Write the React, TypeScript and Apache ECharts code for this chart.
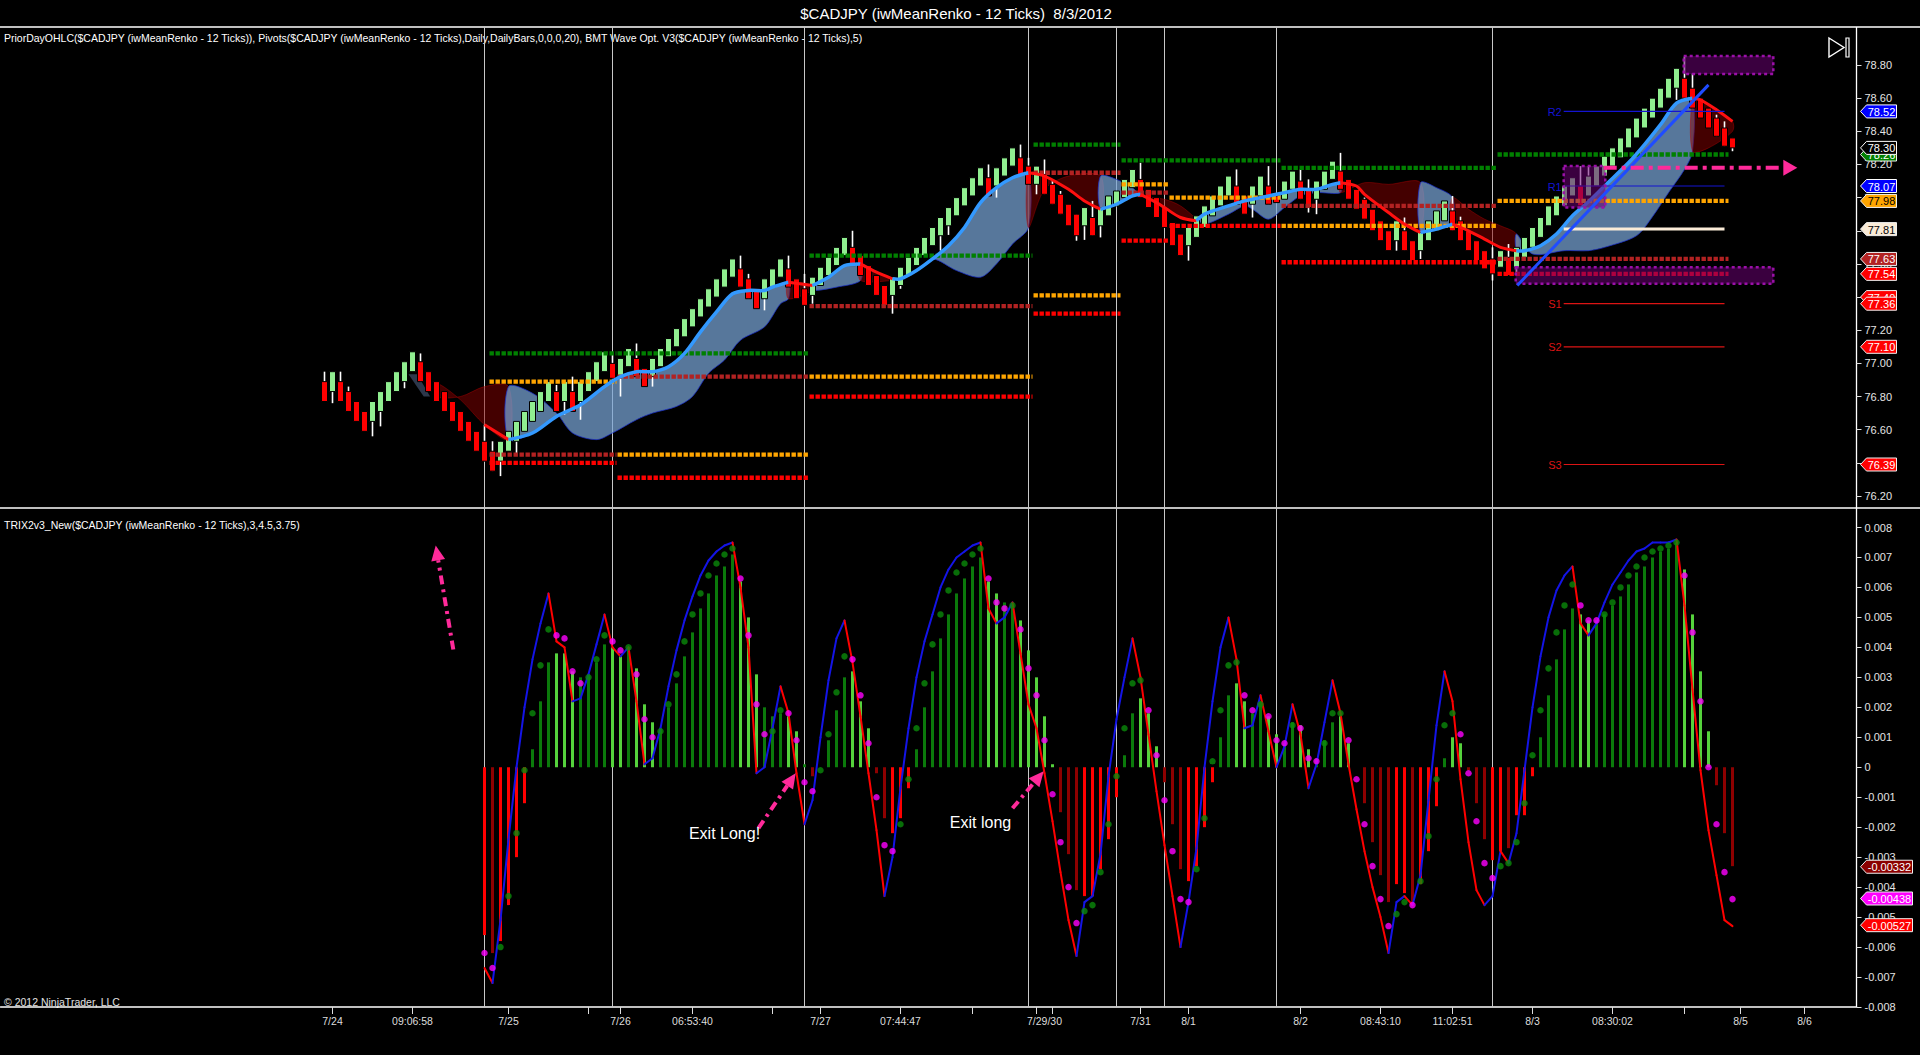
import React, { useEffect, useRef } from "react";
import * as echarts from "echarts";

const FONT = '"Liberation Sans", Arial, Helvetica, sans-serif';
const OFFSET = 40; // empty slots left of the first brick
const N_SLOTS = 232;

const TITLE = "$CADJPY (iwMeanRenko - 12 Ticks)  8/3/2012";
const UPPER_LABEL =
  "PriorDayOHLC($CADJPY (iwMeanRenko - 12 Ticks)), Pivots($CADJPY (iwMeanRenko - 12 Ticks),Daily,DailyBars,0,0,0,20), BMT Wave Opt. V3($CADJPY (iwMeanRenko - 12 Ticks),5)";
const LOWER_LABEL = "TRIX2v3_New($CADJPY (iwMeanRenko - 12 Ticks),3,4.5,3.75)";
const COPYRIGHT = "\u00a9 2012 NinjaTrader, LLC";

// ---- Renko bricks ----
const OPEN = [
  76.89, 76.83, 76.89, 76.83, 76.77, 76.71, 76.65, 76.71, 76.77, 76.83,
  76.89, 76.95, 77.01, 76.95, 76.89, 76.83, 76.77, 76.71, 76.65, 76.59,
  76.53, 76.47, 76.41, 76.47, 76.53, 76.59, 76.65, 76.71, 76.77, 76.83,
  76.77, 76.83, 76.77, 76.83, 76.89, 76.95, 77.0, 76.92, 76.98, 77.03,
  76.97, 76.92, 76.98, 77.04, 77.1, 77.16, 77.22, 77.28, 77.34, 77.4,
  77.46, 77.52, 77.57, 77.51, 77.45, 77.39, 77.46, 77.52, 77.57, 77.51,
  77.45, 77.41, 77.47, 77.53, 77.59, 77.65, 77.7, 77.65, 77.59, 77.53,
  77.47, 77.41, 77.47, 77.53, 77.59, 77.65, 77.71, 77.77, 77.83, 77.89,
  77.95, 78.01, 78.07, 78.12, 78.07, 78.13, 78.19, 78.24, 78.19, 78.08,
  78.14, 78.08, 78.02, 77.96, 77.9, 77.83, 77.88, 77.83, 77.89, 77.95,
  78.0, 78.06, 78.11, 78.05, 78.0, 77.94, 77.85, 77.78, 77.71, 77.76,
  77.82, 77.89, 77.95, 78.01, 78.07, 78.01, 77.96, 78.01, 78.07, 78.01,
  77.99, 78.05, 78.1, 78.05, 77.99, 78.05, 78.11, 78.16, 78.11, 78.05,
  77.99, 77.93, 77.86, 77.8, 77.74, 77.8, 77.74, 77.68, 77.74, 77.8,
  77.86, 77.92, 77.86, 77.8, 77.74, 77.68, 77.63, 77.58, 77.64, 77.58,
  77.64, 77.7, 77.76, 77.83, 77.89, 77.95, 78.01, 78.07, 78.01, 78.07,
  78.13, 78.19, 78.24, 78.3, 78.36, 78.42, 78.48, 78.54, 78.6, 78.66,
  78.72, 78.66, 78.6, 78.54, 78.48, 78.42, 78.36,
];
const CLOSE = [
  76.77, 76.95, 76.77, 76.71, 76.65, 76.59, 76.77, 76.83, 76.89, 76.95,
  77.01, 77.07, 76.89, 76.83, 76.77, 76.71, 76.65, 76.59, 76.53, 76.47,
  76.41, 76.35, 76.53, 76.59, 76.65, 76.71, 76.77, 76.83, 76.89, 76.71,
  76.89, 76.71, 76.89, 76.95, 77.01, 77.07, 76.91, 77.03, 77.09, 76.92,
  76.86, 77.03, 77.09, 77.15, 77.21, 77.27, 77.33, 77.39, 77.45, 77.51,
  77.57, 77.63, 77.46, 77.39, 77.33, 77.51, 77.57, 77.63, 77.46, 77.39,
  77.35, 77.52, 77.58, 77.64, 77.7, 77.76, 77.59, 77.53, 77.47, 77.41,
  77.35, 77.52, 77.58, 77.64, 77.7, 77.76, 77.82, 77.88, 77.94, 78.0,
  78.06, 78.12, 78.18, 78.01, 78.18, 78.24, 78.3, 78.14, 78.08, 78.19,
  78.02, 77.96, 77.9, 77.83, 77.77, 77.94, 77.77, 77.94, 78.01, 78.04,
  78.11, 78.17, 78.0, 77.94, 77.88, 77.82, 77.71, 77.65, 77.82, 77.89,
  77.95, 78.01, 78.07, 78.13, 77.96, 77.9, 78.07, 78.13, 77.96, 77.97,
  78.1, 78.16, 77.99, 77.94, 78.1, 78.16, 78.22, 78.05, 77.99, 77.93,
  77.87, 77.8, 77.74, 77.68, 77.86, 77.68, 77.62, 77.79, 77.86, 77.92,
  77.98, 77.8, 77.74, 77.68, 77.62, 77.57, 77.54, 77.68, 77.53, 77.7,
  77.76, 77.82, 77.88, 77.95, 78.01, 78.07, 78.12, 77.95, 78.13, 78.19,
  78.25, 78.3, 78.36, 78.42, 78.48, 78.54, 78.6, 78.66, 78.72, 78.78,
  78.6, 78.54, 78.48, 78.42, 78.37, 78.31, 78.3,
];
// [brick, high, low] for bricks that show a wick
const WICKS = [
  [0, 76.95, 76.77], [1, 76.95, 76.76], [2, 76.95, 76.77], [3, 76.86, 76.71],
  [6, 76.77, 76.56], [7, 76.83, 76.62], [10, 77.01, 76.85], [12, 77.06, 76.89],
  [20, 76.63, 76.41], [21, 76.53, 76.35], [22, 76.53, 76.32], [24, 76.65, 76.46],
  [29, 76.87, 76.71], [30, 76.89, 76.69], [31, 76.92, 76.71], [32, 76.89, 76.66],
  [36, 77.05, 76.91], [37, 77.03, 76.8], [39, 77.12, 76.92], [41, 77.03, 76.86],
  [52, 77.65, 77.46], [53, 77.54, 77.39], [55, 77.51, 77.32], [58, 77.65, 77.46],
  [60, 77.54, 77.35], [61, 77.52, 77.36], [66, 77.8, 77.59], [71, 77.52, 77.3],
  [72, 77.58, 77.45], [77, 77.88, 77.68], [78, 77.94, 77.775], [83, 78.2, 78.01],
  [84, 78.18, 78.0], [87, 78.32, 78.14], [88, 78.24, 78.08], [89, 78.19, 78.02],
  [90, 78.23, 78.02], [91, 78.11, 77.96], [92, 78.04, 77.9], [94, 77.9, 77.74],
  [95, 77.94, 77.745], [96, 77.98, 77.77], [97, 77.94, 77.76], [102, 78.21, 78.0],
  [108, 77.82, 77.62], [114, 78.17, 77.96], [116, 78.07, 77.88], [118, 78.19, 77.96],
  [122, 78.17, 77.99], [123, 78.11, 77.91], [124, 78.1, 77.9], [127, 78.27, 78.05],
  [130, 78.0, 77.87], [134, 77.86, 77.68], [135, 77.88, 77.68], [137, 77.79, 77.63],
  [141, 78.01, 77.8], [142, 77.885, 77.74], [146, 77.7, 77.5], [148, 77.72, 77.53],
  [149, 77.7, 77.54], [157, 78.19, 77.95], [158, 78.19, 78.01], [169, 78.78, 78.59],
  [170, 78.85, 78.6], [171, 78.75, 78.54], [174, 78.5, 78.37], [175, 78.46, 78.31],
  [176, 78.36, 78.28],
];

// ---- BMT wave (key points, brick index / price) ----
const WAVE_KEYS = [
  [14, 76.88], [17, 76.78], [20, 76.63], [23, 76.54], [26, 76.58], [29, 76.68], [32, 76.75],
  [35, 76.86], [37, 76.92], [39, 76.95], [41, 76.95], [43, 76.98], [45, 77.06], [47, 77.19],
  [49, 77.31], [51, 77.42], [53, 77.44], [55, 77.44], [56, 77.46], [58, 77.49], [61, 77.47],
  [63, 77.52], [65, 77.59], [67, 77.6], [69, 77.55], [71, 77.51], [72, 77.51], [74, 77.56],
  [76, 77.63], [78, 77.71], [80, 77.82], [82, 77.97], [84, 78.06], [86, 78.12], [88, 78.15],
  [90, 78.13], [93, 78.05], [95, 77.98], [97, 77.93], [99, 77.96], [101, 78.01], [102, 78.02],
  [104, 77.97], [105, 77.94], [107, 77.88], [109, 77.86], [110, 77.9], [113, 77.95],
  [115, 77.98], [116, 77.99], [118, 78.01], [120, 78.03], [122, 78.05], [124, 78.05],
  [126, 78.08], [127, 78.09], [129, 78.07], [130, 78.02], [133, 77.91], [135, 77.84],
  [137, 77.79], [139, 77.81], [141, 77.84], [143, 77.8], [145, 77.75], [147, 77.7],
  [149, 77.68], [150, 77.68], [152, 77.71], [154, 77.78], [156, 77.89], [158, 77.975],
  [160, 78.07], [163, 78.21], [165, 78.32], [167, 78.44], [169, 78.57], [171, 78.6],
  [172, 78.59], [174, 78.53], [176, 78.46],
];
const BAND_KEYS = [
  [14, 76.8], [17, 76.8], [20, 76.86], [23, 76.86], [26, 76.82], [29, 76.7], [31, 76.58],
  [34, 76.54], [36, 76.58], [39, 76.66], [41, 76.7], [44, 76.74], [46, 76.8], [48, 76.94],
  [50, 77.02], [52, 77.14], [55, 77.22], [57, 77.36], [58, 77.39], [61, 77.44], [64, 77.46],
  [67, 77.5], [71, 77.5], [74, 77.56], [76, 77.63], [79, 77.56], [82, 77.52], [84, 77.6],
  [86, 77.72], [88, 77.82], [90, 78.05], [93, 78.13], [97, 78.13], [99, 78.11], [101, 78.06],
  [102, 78.01], [105, 77.99], [107, 77.95], [109, 77.87], [110, 77.84], [113, 77.9],
  [115, 77.95], [116, 77.93], [118, 77.87], [120, 77.94], [122, 78.01], [124, 78.03],
  [127, 78.03], [130, 78.09], [133, 78.08], [137, 78.09], [139, 78.06], [141, 78.0],
  [143, 77.93], [145, 77.87], [147, 77.83], [149, 77.78], [151, 77.66], [155, 77.68],
  [158, 77.68], [160, 77.7], [164, 77.77], [166, 77.885], [168, 78.03], [170, 78.17],
  [171, 78.28], [173, 78.3], [176, 78.4],
];
// section boundaries; first section is falling, then alternating
const WAVE_BOUNDS = [14, 23, 58, 61, 67, 71, 88, 97, 102, 109, 127, 137, 141, 149, 171, 176];
const WAVE_LINE_FROM = 19; // the wave line itself becomes visible here
// small dark patch where the wave starts
const PATCH_X = [10.5, 11.6, 13.2, 12.4];
const PATCH_Y = [76.935, 76.935, 76.8, 76.8];

// ---- Prior day OHLC, per session ----
const SESSION_BREAKS = [20, 36, 60, 88, 99, 105, 119, 146];
const SESSION_FROM = [20.5, 36.5, 60.5, 88.5, 99.5, 105.5, 119.5, 146.5];
const SESSION_TO = [36.5, 60.5, 88.5, 99.5, 105.5, 119.5, 146.5, 175.5];
const PRIOR_HIGH = [77.06, 77.06, 77.65, 78.32, 78.225, 78.225, 78.18, 78.26];
const PRIOR_OPEN = [76.89, 76.45, 76.92, 77.41, 78.08, 78.0, 77.83, 77.98];
const PRIOR_CLOSE = [76.45, 76.92, 77.345, 78.15, 78.03, null, 77.95, 77.63];
const PRIOR_LOW = [76.4, 76.31, 76.8, 77.3, 77.74, 77.83, 77.61, 77.54];

// ---- Pivots ----
const PIVOT_NAMES = ["R2", "R1", "PP", "S1", "S2", "S3"];
const PIVOT_VALUES = [78.52, 78.07, 77.81, 77.36, 77.1, 76.39];
const PIVOT_FROM = 154.9;
const PIVOT_TO = 175;

// ---- Drawings ----
const BOX_X0 = [169.9, 154.9, 148.9];
const BOX_X1 = [181.1, 160.1, 181.1];
const BOX_Y0 = [78.745, 77.94, 77.48];
const BOX_Y1 = [78.855, 78.19, 77.58];
const TREND_LINE = [149.1, 77.47, 173, 78.68];
const PRICE_ARROW = [159.9, 78.18, 184.1, 78.18];
const LOW_ARROWS = [
  [54.25, -0.00203, 58.9, -0.0002],
  [86, -0.00137, 89.9, -0.00013],
  [16.1, 0.00393, 13.9, 0.0074],
];
const NOTE_TEXT = ["Exit Long!", "Exit long"];
const NOTE_X = [50.0, 82.0];
const NOTE_Y = [-0.0022, -0.00183];

// ---- Right axis tags ----
const TAG_UP_VALUES = [78.52, 78.26, 78.3, 78.07, 77.98, 77.81, 77.63, 77.54, 77.4, 77.36, 77.1, 76.39];
const TAG_UP_BG = ["#0000ff", "#008000", "#000000", "#0000ff", "#ffa500", "#faebd7", "#b22222", "#ff0000", "#ff0000", "#ff0000", "#ff0000", "#ff0000"];
const TAG_UP_FG = ["#fff", "#fff", "#fff", "#fff", "#000", "#000", "#fff", "#fff", "#fff", "#fff", "#fff", "#fff"];
const TAG_LOW_VALUES = [-0.00332, -0.00438, -0.00527];
const TAG_LOW_BG = ["#8b0000", "#ff00ff", "#ff0000"];

// ---- TRIX panel (starts at brick 20) ----
const TRIX_START = 20;
const HIST = [
  -0.0056, -0.0062, -0.0058, -0.0046, -0.003, -0.0012, 0.0006, 0.0022, 0.0035, 0.0038,
  0.0038, 0.0032, 0.003, 0.0031, 0.0035, 0.0041, 0.004, 0.0037, 0.004, 0.0033,
  0.0021, 0.0015, 0.0013, 0.002, 0.0028, 0.0037, 0.0045, 0.0053, 0.0058, 0.0064,
  0.0067, 0.0071, 0.0062, 0.005, 0.0031, 0.002, 0.0017, 0.0018, 0.0017, 0.0012,
  0.0001, -0.0003, 0.0, 0.0009, 0.0019, 0.003, 0.0032, 0.0022, 0.0013, -0.0002,
  -0.0017, -0.0022, -0.0017, -0.0007, 0.0006, 0.002, 0.0032, 0.0043, 0.0051, 0.0058,
  0.0063, 0.0067, 0.007, 0.0062, 0.0058, 0.0055, 0.0054, 0.0049, 0.0039, 0.003,
  0.0017, 0.0001, -0.0015, -0.0029, -0.0041, -0.0043, -0.0043, -0.0034, -0.0024, -0.001,
  0.0004, 0.0018, 0.0023, 0.0018, 0.0007, -0.0005, -0.0019, -0.0034, -0.0038, -0.0033,
  -0.002, -0.0005, 0.001, 0.0024, 0.0028, 0.0022, 0.0018, 0.0022, 0.0017, 0.0011,
  0.0008, 0.0015, 0.0014, 0.0006, 0.0003, 0.0009, 0.0015, 0.0017, 0.0008, 0.0,
  -0.0012, -0.0025, -0.0036, -0.0045, -0.0039, -0.0042, -0.0046, -0.0039, -0.0028, -0.0013,
  0.0003, 0.001, 0.0008, -0.0001, -0.0012, -0.0024, -0.0031, -0.0028, -0.0027, -0.0016,
  -0.0016, -0.0003, 0.001, 0.0024, 0.0036, 0.0046, 0.0053, 0.0051, 0.0049, 0.0049,
  0.0051, 0.0054, 0.0057, 0.0061, 0.0065, 0.0067, 0.007, 0.0072, 0.0073, 0.0075,
  0.0066, 0.0051, 0.0032, 0.0012, -0.0006, -0.0022, -0.0033,
];
const HIST_COLORS =
  "RrRRRRgggG" + "GGggggGGgG" + "GGgggggggg" + "ggGGGgggGG" + "grggggGGGr" +
  "rRRRgggggg" + "gggGGggGGG" + "GGrrrRRRRR" + "ggGGGrrrRR" + "RRggGGggGG" +
  "ggGGgggGGr" + "rrrrRRrRRR" + "gGGrrrRRrR" + "RRgggggGGg" + "gggggggggg" + "GGGGrrr";
const SIGNAL = [
  -0.0062, -0.0067, -0.006, -0.0043, -0.0022, -0.0001, 0.0018, 0.0034, 0.0046, 0.0044,
  0.0043, 0.0032, 0.0028, 0.003, 0.0036, 0.0044, 0.0042, 0.0039, 0.004, 0.0031,
  0.0016, 0.001, 0.0012, 0.0021, 0.0031, 0.0042, 0.0051, 0.0058, 0.0064, 0.0068,
  0.0071, 0.0073, 0.0063, 0.0044, 0.0021, 0.0011, 0.0012, 0.0019, 0.0018, 0.0009,
  -0.0005, -0.0008, -0.0001, 0.0011, 0.0025, 0.0037, 0.0036, 0.0024, 0.0008, -0.001,
  -0.0026, -0.0028, -0.0019, -0.0004, 0.0013, 0.0028, 0.0041, 0.0051, 0.0059, 0.0065,
  0.0068, 0.0071, 0.0073, 0.0063, 0.0055, 0.0053, 0.0054, 0.0046, 0.0033, 0.0024,
  0.0009, -0.0009, -0.0025, -0.004, -0.0052, -0.0048, -0.0046, -0.0035, -0.0019, -0.0003,
  0.0013, 0.0028, 0.0029, 0.0019, 0.0004, -0.0011, -0.0028, -0.0044, -0.0045, -0.0034,
  -0.0017, 0.0002, 0.0019, 0.0034, 0.0035, 0.0024, 0.0019, 0.0021, 0.0017, 0.0009,
  0.0008, 0.0014, 0.0013, 0.0003, 0.0002, 0.0008, 0.0018, 0.0018, 0.0009, -0.0004,
  -0.0019, -0.0033, -0.0044, -0.0053, -0.0049, -0.0045, -0.0046, -0.0038, -0.0023, -0.0004,
  0.0014, 0.0018, 0.0011, -0.0002, -0.0018, -0.0032, -0.0037, -0.0033, -0.0032, -0.0025,
  -0.0012, 0.0004, 0.0019, 0.0033, 0.0045, 0.0054, 0.0061, 0.0054, 0.0049, 0.0049,
  0.0051, 0.0055, 0.006, 0.0064, 0.0067, 0.007, 0.0072, 0.0073, 0.0074, 0.0075,
  0.0064, 0.0045, 0.0022, 0.0, -0.0019, -0.0035, -0.0044,
];
const SIGNAL_COLORS =
  "mmgggggggm" + "mmmgggmmgm" + "mmgggggggg" + "ggmmmmggmm" + "mmggggmmmm" +
  "mmgggggggg" + "gggmmmgmmm" + "mmmmmggggg" + "gggmmmmmmg" + "gggggmmgmm" +
  "mgmmmgggmm" + "mmmmggmggg" + "ggmmmmmggg" + "gggggggmmm" + "gggggggggg" + "mmmmmmm";
const TRIX = [
  -0.0067, -0.0072, -0.0051, -0.0024, 0.0, 0.002, 0.0036, 0.0048, 0.0058, 0.0042,
  0.004, 0.0022, 0.0023, 0.0031, 0.0041, 0.0051, 0.004, 0.0037, 0.004, 0.0022,
  0.0001, 0.0003, 0.0013, 0.0027, 0.0039, 0.0049, 0.0057, 0.0064, 0.0069, 0.0072,
  0.0074, 0.0075, 0.006, 0.004, -0.0002, 0.0, 0.0013, 0.0027, 0.0018, -0.0002,
  -0.0019, -0.0011, 0.001, 0.0029, 0.0043, 0.0049, 0.0035, 0.0017, -0.0002, -0.0021,
  -0.0043, -0.003, -0.0007, 0.0013, 0.003, 0.0042, 0.0051, 0.006, 0.0066, 0.007,
  0.0072, 0.0074, 0.0075, 0.0053, 0.0048, 0.005, 0.0055, 0.0038, 0.0021, 0.0013,
  -0.0002, -0.0018, -0.0035, -0.0051, -0.0063, -0.0045, -0.0043, -0.0029, -0.0003, 0.0016,
  0.003, 0.0043, 0.003, 0.0011, -0.0008, -0.0026, -0.0043, -0.006, -0.0045, -0.0027,
  0.0, 0.0022, 0.004, 0.005, 0.0036, 0.0013, 0.0014, 0.0024, 0.0012, 0.0,
  0.0007, 0.0021, 0.0011, -0.0007, 0.0001, 0.0015, 0.0029, 0.0018, 0.0001, -0.0014,
  -0.0028, -0.004, -0.005, -0.0062, -0.0045, -0.0043, -0.0046, -0.0036, -0.0011, 0.0014,
  0.0032, 0.0022, -0.0004, -0.0025, -0.0041, -0.0046, -0.0043, -0.0028, -0.0032, -0.0022,
  -0.0001, 0.002, 0.0037, 0.005, 0.0059, 0.0064, 0.0067, 0.0048, 0.0044, 0.0048,
  0.0055, 0.0061, 0.0065, 0.0069, 0.0072, 0.0073, 0.0075, 0.0075, 0.0075, 0.0076,
  0.0054, 0.0026, -0.0001, -0.0021, -0.0036, -0.0051, -0.0053,
];

// ---- Time axis ----
const X_LABEL_SLOTS = [41, 51, 63, 77, 86, 102, 112, 130, 142, 148, 162, 172, 181, 191, 201, 217, 225];
const X_LABELS = ["7/24", "09:06:58", "7/25", "7/26", "06:53:40", "7/27", "07:44:47", "7/29/30", "7/31", "8/1", "8/2", "08:43:10", "11:02:51", "8/3", "08:30:02", "8/5", "8/6"];
const X_TICK_SLOTS = [41, 51, 63, 73, 77, 86, 96, 102, 112, 121, 129, 131, 142, 148, 162, 172, 181, 191, 201, 210, 217, 225];

// layout constants (pixels)
const PANEL_TOP = 27;
const PANEL_MID = 508;
const PANEL_BOTTOM = 1007;

const HIST_COLOR_MAP: any = { G: "#55d23c", g: "#0b7a0b", R: "#ff0000", r: "#8e0000" };
const DOT_COLOR_MAP: any = { g: "#0a8a0a", m: "#ff00ff" };

function pt(api: any, idx: number, val: number) {
  const base = Math.floor(idx);
  const a = api.coord([base + OFFSET, val]);
  const b = api.coord([base + 1 + OFFSET, val]);
  return [a[0] + (idx - base) * (b[0] - a[0]), a[1]];
}

function arrow(p0: number[], p1: number[], color: string, width: number, head: number, half: number, dash: number[]) {
  const dx = p1[0] - p0[0];
  const dy = p1[1] - p0[1];
  const len = Math.hypot(dx, dy) || 1;
  const ux = dx / len;
  const uy = dy / len;
  const bx = p1[0] - ux * head;
  const by = p1[1] - uy * head;
  const px = -uy;
  const py = ux;
  return [
    { type: "line", shape: { x1: p0[0], y1: p0[1], x2: bx, y2: by }, style: { stroke: color, lineWidth: width, lineDash: dash } },
    {
      type: "polygon",
      shape: { points: [[p1[0], p1[1]], [bx + px * half, by + py * half], [bx - px * half, by - py * half]] },
      style: { fill: color },
    },
  ];
}

function tag(ax: number, y: number, w: number, bg: string, fg: string, text: string, border: string) {
  const h = 6.5;
  return {
    type: "group",
    children: [
      {
        type: "polygon",
        shape: { points: [[ax + 4, y], [ax + 10, y - h], [ax + 10 + w, y - h], [ax + 10 + w, y + h], [ax + 10, y + h]] },
        style: { fill: bg, stroke: border, lineWidth: 1 },
      },
      {
        type: "text",
        style: {
          text,
          x: ax + 10 + w / 2,
          y: y + 0.5,
          fill: fg,
          font: `11px ${FONT}`,
          align: "center",
          verticalAlign: "middle",
        },
      },
    ],
  };
}

function sectionKeys(keys: number[][], s: number, e: number) {
  return keys.filter((k) => k[0] >= s && k[0] <= e);
}

function buildOption() {
  const cats = Array.from({ length: N_SLOTS }, (_, k) => {
    const j = X_LABEL_SLOTS.indexOf(k);
    return j >= 0 ? X_LABELS[j] : "";
  });
  const wickMap = new Map(WICKS.map((w) => [w[0], w]));

  const priorItems: any[] = [];
  const levels = [
    [PRIOR_HIGH, "#008000"],
    [PRIOR_CLOSE, "#b22222"],
    [PRIOR_OPEN, "#ffa500"],
    [PRIOR_LOW, "#ff0000"],
  ];
  SESSION_FROM.forEach((from, s) => {
    levels.forEach(([arr, color]: any) => {
      const v = arr[s];
      if (v != null) priorItems.push({ from, to: SESSION_TO[s], v, color });
    });
  });

  const histData = Array.from({ length: N_SLOTS }, (_, k) => {
    const i = k - OFFSET - TRIX_START;
    if (i < 0 || i >= HIST.length) return null;
    return { value: HIST[i], itemStyle: { color: HIST_COLOR_MAP[HIST_COLORS[i]] } };
  });
  const dotData = SIGNAL.map((v, i) => ({
    value: [TRIX_START + i + OFFSET, v],
    itemStyle: { color: DOT_COLOR_MAP[SIGNAL_COLORS[i]] },
  }));

  const sectionData = WAVE_BOUNDS.slice(0, -1).map((s) => [s + OFFSET, 77.5]);

  return {
    animation: false,
    backgroundColor: "#000",
    textStyle: { fontFamily: FONT },
    grid: [
      { left: 0.5, width: 1856, top: 31.85, height: 464.15, containLabel: false, outerBoundsMode: "none" },
      { left: 0.5, width: 1856, top: 527.5, height: 479.5, containLabel: false, outerBoundsMode: "none" },
    ],
    xAxis: [
      { type: "category", gridIndex: 0, data: cats, boundaryGap: true, show: false },
      {
        type: "category",
        gridIndex: 1,
        data: cats,
        boundaryGap: true,
        position: "bottom",
        axisLine: { show: true, onZero: false, lineStyle: { color: "#ffffff", width: 1.5 } },
        axisTick: {
          show: true,
          alignWithLabel: true,
          length: 7,
          interval: (i: number) => X_TICK_SLOTS.includes(i),
          lineStyle: { color: "#dddddd" },
        },
        axisLabel: {
          interval: (i: number, v: string) => v !== "",
          color: "#dddddd",
          fontSize: 10.5,
          fontFamily: FONT,
          margin: 8,
        },
        splitLine: { show: false },
      },
    ],
    yAxis: [
      {
        type: "value",
        gridIndex: 0,
        position: "right",
        min: 76.2,
        max: 79.0,
        interval: 0.2,
        axisLine: { show: false },
        axisTick: { show: true, length: 5, lineStyle: { color: "#dddddd" } },
        axisLabel: {
          color: "#e4e4e4",
          fontSize: 11,
          fontFamily: FONT,
          margin: 8,
          showMaxLabel: false,
          formatter: (v: number) => v.toFixed(2),
        },
        splitLine: { show: false },
      },
      {
        type: "value",
        gridIndex: 1,
        position: "right",
        min: -0.008,
        max: 0.008,
        interval: 0.001,
        axisLine: { show: false },
        axisTick: { show: true, length: 5, lineStyle: { color: "#dddddd" } },
        axisLabel: {
          color: "#e4e4e4",
          fontSize: 11,
          fontFamily: FONT,
          margin: 8,
          showMaxLabel: true,
          showMinLabel: true,
          formatter: (v: number) => {
            const r = Math.round(v * 1000) / 1000;
            return r === 0 ? "0" : String(r);
          },
        },
        splitLine: { show: false },
      },
    ],
    graphic: [
      { type: "line", shape: { x1: 0, y1: PANEL_TOP, x2: 1920, y2: PANEL_TOP }, style: { stroke: "#ffffff", lineWidth: 1.3 } },
      { type: "line", shape: { x1: 0, y1: PANEL_MID, x2: 1920, y2: PANEL_MID }, style: { stroke: "#ffffff", lineWidth: 1.3 } },
      { type: "line", shape: { x1: 1856.5, y1: PANEL_TOP, x2: 1856.5, y2: PANEL_BOTTOM }, style: { stroke: "#ffffff", lineWidth: 1.3 } },
      { type: "text", x: 956, y: 13, style: { text: TITLE, fill: "#ffffff", font: `15px ${FONT}`, align: "center", verticalAlign: "middle" } },
      { type: "text", x: 4, y: 38, style: { text: UPPER_LABEL, fill: "#ffffff", font: `10.5px ${FONT}`, verticalAlign: "middle" } },
      { type: "text", x: 4, y: 525, style: { text: LOWER_LABEL, fill: "#ffffff", font: `10.5px ${FONT}`, verticalAlign: "middle" } },
      { type: "text", x: 4, y: 1002, style: { text: COPYRIGHT, fill: "#e0e0e0", font: `10.5px ${FONT}`, verticalAlign: "middle" } },
      { type: "polygon", shape: { points: [[1829, 38], [1844, 47.5], [1829, 57]] }, style: { fill: "none", stroke: "#ffffff", lineWidth: 1.4 } },
      { type: "rect", shape: { x: 1846, y: 38, width: 3, height: 19 }, style: { fill: "none", stroke: "#ffffff", lineWidth: 1.2 } },
    ],
    series: [
      // session separators
      {
        type: "custom",
        xAxisIndex: 0,
        yAxisIndex: 0,
        z: 1,
        clip: false,
        data: SESSION_BREAKS.map((b) => [b + OFFSET, 77.5]),
        encode: { x: 0, y: 1 },
        renderItem: (params: any, api: any) => {
          const x = api.coord([api.value(0), 77.5])[0];
          return { type: "line", shape: { x1: x, y1: PANEL_TOP, x2: x, y2: PANEL_BOTTOM }, style: { stroke: "#c8c8c8", lineWidth: 1 } };
        },
      },
      // dark patch at the start of the wave
      {
        type: "custom",
        xAxisIndex: 0,
        yAxisIndex: 0,
        z: 2,
        data: [[Math.floor(PATCH_X[0]) + OFFSET, PATCH_Y[0]]],
        encode: { x: 0, y: 1 },
        renderItem: (params: any, api: any) => ({
          type: "polygon",
          shape: { points: PATCH_X.map((x, i) => pt(api, x, PATCH_Y[i])) },
          style: { fill: "rgba(60,75,100,0.75)" },
        }),
      },
      // wave band fill
      {
        type: "custom",
        xAxisIndex: 0,
        yAxisIndex: 0,
        z: 2,
        data: sectionData,
        encode: { x: 0, y: 1 },
        renderItem: (params: any, api: any) => {
          const k = params.dataIndex;
          const s = WAVE_BOUNDS[k];
          const e = WAVE_BOUNDS[k + 1];
          const down = k % 2 === 0;
          const w = sectionKeys(WAVE_KEYS, s, e).map((p) => api.coord([p[0] + OFFSET, p[1]]));
          const b = sectionKeys(BAND_KEYS, s, e).map((p) => api.coord([p[0] + OFFSET, p[1]])).reverse();
          return {
            type: "polygon",
            shape: { points: w.concat(b), smooth: 0.3 },
            style: {
              fill: down ? "rgba(135,0,0,0.5)" : "rgba(120,165,215,0.72)",
              stroke: down ? "rgba(190,0,0,0.4)" : "rgba(25,45,200,0.75)",
              lineWidth: 1,
            },
          };
        },
      },
      // renko candles
      {
        type: "custom",
        xAxisIndex: 0,
        yAxisIndex: 0,
        z: 3,
        data: OPEN.map((o, i) => [i + OFFSET, o, CLOSE[i]]),
        encode: { x: 0, y: [1, 2] },
        renderItem: (params: any, api: any) => {
          const i = params.dataIndex;
          const o = OPEN[i];
          const c = CLOSE[i];
          const po = api.coord([i + OFFSET, o]);
          const pc = api.coord([i + OFFSET, c]);
          const x = po[0];
          const children: any[] = [];
          const wk = wickMap.get(i);
          if (wk) {
            const yh = api.coord([i + OFFSET, wk[1]])[1];
            const yl = api.coord([i + OFFSET, wk[2]])[1];
            children.push({ type: "line", shape: { x1: x, y1: yh, x2: x, y2: yl }, style: { stroke: "#ffffff", lineWidth: 1.6 } });
          }
          children.push({
            type: "rect",
            shape: { x: x - 3, y: Math.min(po[1], pc[1]), width: 6, height: Math.abs(pc[1] - po[1]) },
            style: { fill: c >= o ? "#90ee90" : "#ff0000", stroke: "#000000", lineWidth: 1 },
          });
          return { type: "group", children };
        },
      },
      // prior day OHLC
      {
        type: "custom",
        xAxisIndex: 0,
        yAxisIndex: 0,
        z: 4,
        data: priorItems.map((p) => [Math.floor(p.from) + OFFSET, p.v]),
        encode: { x: 0, y: 1 },
        renderItem: (params: any, api: any) => {
          const p = priorItems[params.dataIndex];
          const a = pt(api, p.from, p.v);
          const b = pt(api, p.to, p.v);
          return {
            type: "line",
            shape: { x1: a[0] + 1, y1: a[1], x2: b[0], y2: b[1] },
            style: { stroke: p.color, lineWidth: 4.3, lineDash: [4.4, 1.6] },
          };
        },
      },
      // wave line
      {
        type: "custom",
        xAxisIndex: 0,
        yAxisIndex: 0,
        z: 5,
        data: sectionData,
        encode: { x: 0, y: 1 },
        renderItem: (params: any, api: any) => {
          const k = params.dataIndex;
          const s = Math.max(WAVE_BOUNDS[k], k === 0 ? WAVE_LINE_FROM : -1);
          const e = WAVE_BOUNDS[k + 1];
          const down = k % 2 === 0;
          const w = sectionKeys(WAVE_KEYS, s, e).map((p) => api.coord([p[0] + OFFSET, p[1]]));
          return {
            type: "polyline",
            shape: { points: w, smooth: 0.3 },
            style: { stroke: down ? "#ff1010" : "#3399ff", lineWidth: down ? 3 : 3.5, fill: "none" },
          };
        },
      },
      // pivots
      {
        type: "custom",
        xAxisIndex: 0,
        yAxisIndex: 0,
        z: 6,
        data: PIVOT_VALUES.map((v) => [Math.floor(PIVOT_FROM) + OFFSET, v]),
        encode: { x: 0, y: 1 },
        renderItem: (params: any, api: any) => {
          const i = params.dataIndex;
          const name = PIVOT_NAMES[i];
          const v = PIVOT_VALUES[i];
          const a = pt(api, PIVOT_FROM, v);
          const b = pt(api, PIVOT_TO, v);
          const isR = name[0] === "R";
          const isP = name === "PP";
          const color = isP ? "#faebd7" : isR ? "#1414d2" : "#dc1414";
          const children: any[] = [
            { type: "line", shape: { x1: a[0], y1: a[1], x2: b[0], y2: b[1] }, style: { stroke: color, lineWidth: isP ? 3 : 1.2 } },
          ];
          if (!isP) {
            children.push({
              type: "text",
              style: { text: name, x: a[0] - 2, y: a[1] + 0.5, fill: color, font: `11px ${FONT}`, align: "right", verticalAlign: "middle" },
            });
          }
          return { type: "group", children };
        },
      },
      // purple boxes
      {
        type: "custom",
        xAxisIndex: 0,
        yAxisIndex: 0,
        z: 7,
        data: BOX_X0.map((x0, i) => [Math.floor(x0) + OFFSET, BOX_Y0[i]]),
        encode: { x: 0, y: 1 },
        renderItem: (params: any, api: any) => {
          const i = params.dataIndex;
          const a = pt(api, BOX_X0[i], BOX_Y1[i]);
          const b = pt(api, BOX_X1[i], BOX_Y0[i]);
          return {
            type: "rect",
            shape: { x: a[0], y: a[1], width: b[0] - a[0], height: b[1] - a[1] },
            style: { fill: "rgba(105,0,115,0.55)", stroke: "#9a10a8", lineWidth: 2.5, lineDash: [3, 3] },
          };
        },
      },
      // trend line + price arrow
      {
        type: "custom",
        xAxisIndex: 0,
        yAxisIndex: 0,
        z: 8,
        clip: false,
        data: [[Math.floor(TREND_LINE[0]) + OFFSET, TREND_LINE[1]]],
        encode: { x: 0, y: 1 },
        renderItem: (params: any, api: any) => {
          const a = pt(api, TREND_LINE[0], TREND_LINE[1]);
          const b = pt(api, TREND_LINE[2], TREND_LINE[3]);
          const p0 = pt(api, PRICE_ARROW[0], PRICE_ARROW[1]);
          const p1 = pt(api, PRICE_ARROW[2], PRICE_ARROW[3]);
          return {
            type: "group",
            children: [
              { type: "line", shape: { x1: a[0], y1: a[1], x2: b[0], y2: b[1] }, style: { stroke: "#1f4cff", lineWidth: 3 } },
              ...arrow(p0, p1, "#ff2a9a", 4, 14, 8, [13, 5, 4, 5]),
            ],
          };
        },
      },
      // upper right-axis tags
      {
        type: "custom",
        xAxisIndex: 0,
        yAxisIndex: 0,
        z: 10,
        clip: false,
        data: TAG_UP_VALUES.map((v) => [OFFSET, v]),
        encode: { x: 0, y: 1 },
        renderItem: (params: any, api: any) => {
          const i = params.dataIndex;
          const v = TAG_UP_VALUES[i];
          const y = api.coord([OFFSET, v])[1];
          const ax = params.coordSys.x + params.coordSys.width;
          const bg = TAG_UP_BG[i];
          const border = bg === "#000000" || bg === "#0000ff" ? "#ffffff" : "#f0f0f0";
          return tag(ax, y, 30, bg, TAG_UP_FG[i], v.toFixed(2), border);
        },
      },
      // ---------- lower panel ----------
      {
        type: "bar",
        xAxisIndex: 1,
        yAxisIndex: 1,
        z: 2,
        barWidth: 3,
        data: histData,
      },
      {
        type: "custom",
        xAxisIndex: 1,
        yAxisIndex: 1,
        z: 3,
        data: TRIX.map((v, i) => [TRIX_START + i + OFFSET, v]),
        encode: { x: 0, y: 1 },
        renderItem: (params: any, api: any) => {
          const i = params.dataIndex;
          if (i === 0) return null;
          const a = api.coord([TRIX_START + i - 1 + OFFSET, TRIX[i - 1]]);
          const b = api.coord([TRIX_START + i + OFFSET, TRIX[i]]);
          const up = TRIX[i] >= TRIX[i - 1];
          return {
            type: "line",
            shape: { x1: a[0], y1: a[1], x2: b[0], y2: b[1] },
            style: { stroke: up ? "#1414e6" : "#ff0000", lineWidth: 2, lineCap: "round" },
          };
        },
      },
      {
        type: "scatter",
        xAxisIndex: 1,
        yAxisIndex: 1,
        z: 4,
        symbolSize: 6.5,
        data: dotData,
      },
      // arrows + notes
      {
        type: "custom",
        xAxisIndex: 1,
        yAxisIndex: 1,
        z: 5,
        clip: false,
        data: LOW_ARROWS.map((a) => [Math.floor(a[0]) + OFFSET, a[1]]),
        encode: { x: 0, y: 1 },
        renderItem: (params: any, api: any) => {
          const a = LOW_ARROWS[params.dataIndex];
          const p0 = pt(api, a[0], a[1]);
          const p1 = pt(api, a[2], a[3]);
          return { type: "group", children: arrow(p0, p1, "#ff2a9a", 4, 15, 7, [9, 5, 3, 5]) };
        },
      },
      {
        type: "custom",
        xAxisIndex: 1,
        yAxisIndex: 1,
        z: 5,
        clip: false,
        data: NOTE_X.map((x, i) => [Math.floor(x) + OFFSET, NOTE_Y[i]]),
        encode: { x: 0, y: 1 },
        renderItem: (params: any, api: any) => {
          const i = params.dataIndex;
          const p = pt(api, NOTE_X[i], NOTE_Y[i]);
          return {
            type: "text",
            style: { text: NOTE_TEXT[i], x: p[0], y: p[1], fill: "#ffffff", font: `16px ${FONT}`, align: "center", verticalAlign: "middle" },
          };
        },
      },
      // lower right-axis tags
      {
        type: "custom",
        xAxisIndex: 1,
        yAxisIndex: 1,
        z: 10,
        clip: false,
        data: TAG_LOW_VALUES.map((v) => [OFFSET, v]),
        encode: { x: 0, y: 1 },
        renderItem: (params: any, api: any) => {
          const i = params.dataIndex;
          const v = TAG_LOW_VALUES[i];
          const y = api.coord([OFFSET, v])[1];
          const ax = params.coordSys.x + params.coordSys.width;
          return tag(ax, y, 46, TAG_LOW_BG[i], "#ffffff", v.toFixed(5), "#f0f0f0");
        },
      },
    ],
  };
}

export default function App() {
  const ref = useRef<HTMLDivElement>(null);
  useEffect(() => {
    document.body.style.margin = "0";
    document.body.style.background = "#000";
    const chart = echarts.init(ref.current as HTMLDivElement, null, { renderer: "svg" });
    chart.setOption(buildOption() as any);
    return () => chart.dispose();
  }, []);
  return <div ref={ref} style={{ width: 1920, height: 1055, background: "#000" }} />;
}
